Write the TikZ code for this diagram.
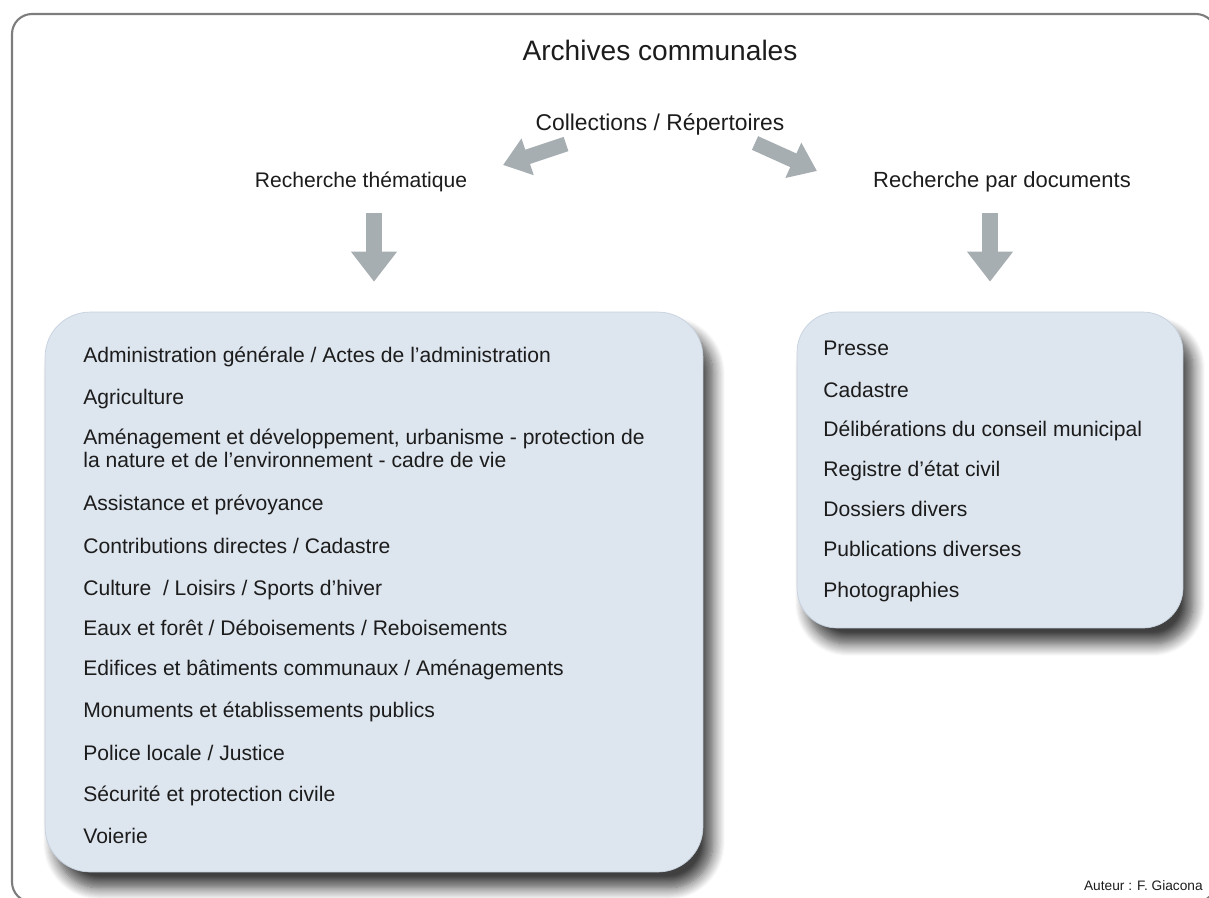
\documentclass[tikz,border=0pt]{standalone}
\usepackage{fontspec}
\setmainfont{Liberation Sans}
\usetikzlibrary{arrows.meta,positioning,shadows.blur}
\definecolor{boxblue}{RGB}{221,229,238}
\definecolor{boxedge}{RGB}{198,209,222}
\definecolor{arrowgray}{RGB}{166,174,178}
\definecolor{framegray}{RGB}{125,125,125}
\definecolor{txtgray}{RGB}{28,28,28}

\begin{document}
\begin{tikzpicture}[x=0.02cm,y=-0.02cm,
  listbox/.style={fill=boxblue,draw=boxedge,line width=0.4pt,
    blur shadow={shadow xshift=0.2cm,shadow yshift=-0.32cm,
      shadow blur radius=0.24cm,shadow opacity=75,shadow blur steps=12}},
  item/.style={anchor=base west,inner sep=0pt,text=txtgray,
    font=\fontsize{12}{14}\selectfont},
  headtxt/.style={anchor=base,inner sep=0pt,text=txtgray,
    font=\fontsize{12.5}{15}\selectfont},
  fatarrow/.style={draw=arrowgray,line width=0.32cm,
    -{Triangle[length=0.6cm,width=0.88cm]}},
  slantarrow/.style={draw=arrowgray,line width=0.3cm,
    -{Triangle[length=0.52cm,width=0.74cm]}}]
  \useasboundingbox (0,0) rectangle (1209,897);
  \clip (0,0) rectangle (1209,897);

  %% outer frame
  \draw[framegray,line width=1.2pt,rounded corners=0.4cm]
        (12,14) rectangle (1216,902);

  %% headings
  \node[anchor=base,inner sep=0pt,text=txtgray,font=\fontsize{16}{19}\selectfont]
        (title) at (660,60) {Archives communales};
  \node[headtxt,font=\fontsize{13}{16}\selectfont] (coll) at (660,130)
        {Collections / Répertoires};
  \node[headtxt,font=\fontsize{12}{15}\selectfont] (them) at (361,187) {Recherche thématique};
  \node[headtxt] (docs) at (1002,187) {Recherche par documents};

  %% boxes
  \node[listbox,rounded corners=0.9cm,minimum width=13.16cm,minimum height=11.2cm]
        (lbox) at (374,592) {};
  \node[listbox,rounded corners=0.8cm,minimum width=7.72cm,minimum height=6.32cm]
        (rbox) at (990,470) {};

  %% arrows
  \coordinate (la0) at (566,144);
  \coordinate (la1) at (503,165);
  \coordinate (ra0) at (755,143);
  \coordinate (ra1) at (817,171);
  \draw[slantarrow] (la0) -- (la1);
  \draw[slantarrow] (ra0) -- (ra1);
  \draw[fatarrow,shorten <=0.42cm,shorten >=0.6cm] (them.south -| lbox.north) -- (lbox.north);
  \draw[fatarrow,shorten <=0.42cm,shorten >=0.6cm] (docs.south -| rbox.north) -- (rbox.north);

  %% thematic list
  \node[item] (t1) at (83,362) {Administration générale / Actes de l'administration};
  \node[item] (t2) at (83,404) {Agriculture};
  \node[item] (t3a) at (83,444) {Aménagement et développement, urbanisme - protection de};
  \node[item] (t3b) at (83,467) {la nature et de l'environnement - cadre de vie};
  \node[item] (t4) at (83,510) {Assistance et prévoyance};
  \node[item] (t5) at (83,553) {Contributions directes / Cadastre};
  \node[item] (t6) at (83,595) {Culture\ \ / Loisirs / Sports d'hiver};
  \node[item] (t7) at (83,635) {Eaux et forêt / Déboisements / Reboisements};
  \node[item] (t8) at (83,675) {Edifices et bâtiments communaux / Aménagements};
  \node[item] (t9) at (83,717) {Monuments et établissements publics};
  \node[item] (t10) at (83,760) {Police locale / Justice};
  \node[item] (t11) at (83,801) {Sécurité et protection civile};
  \node[item] (t12) at (83,843) {Voierie};

  %% document list
  \node[item] (d1) at (823,355) {Presse};
  \node[item] (d2) at (823,397) {Cadastre};
  \node[item] (d3) at (823,436) {Délibérations du conseil municipal};
  \node[item] (d4) at (823,476) {Registre d'état civil};
  \node[item] (d5) at (823,516) {Dossiers divers};
  \node[item] (d6) at (823,556) {Publications diverses};
  \node[item] (d7) at (823,597) {Photographies};

  \node[anchor=base east,inner sep=0pt,text=txtgray,font=\fontsize{7.8}{9}\selectfont]
        (credit) at (1203,890) {Auteur : F. Giacona};
\end{tikzpicture}
\end{document}
